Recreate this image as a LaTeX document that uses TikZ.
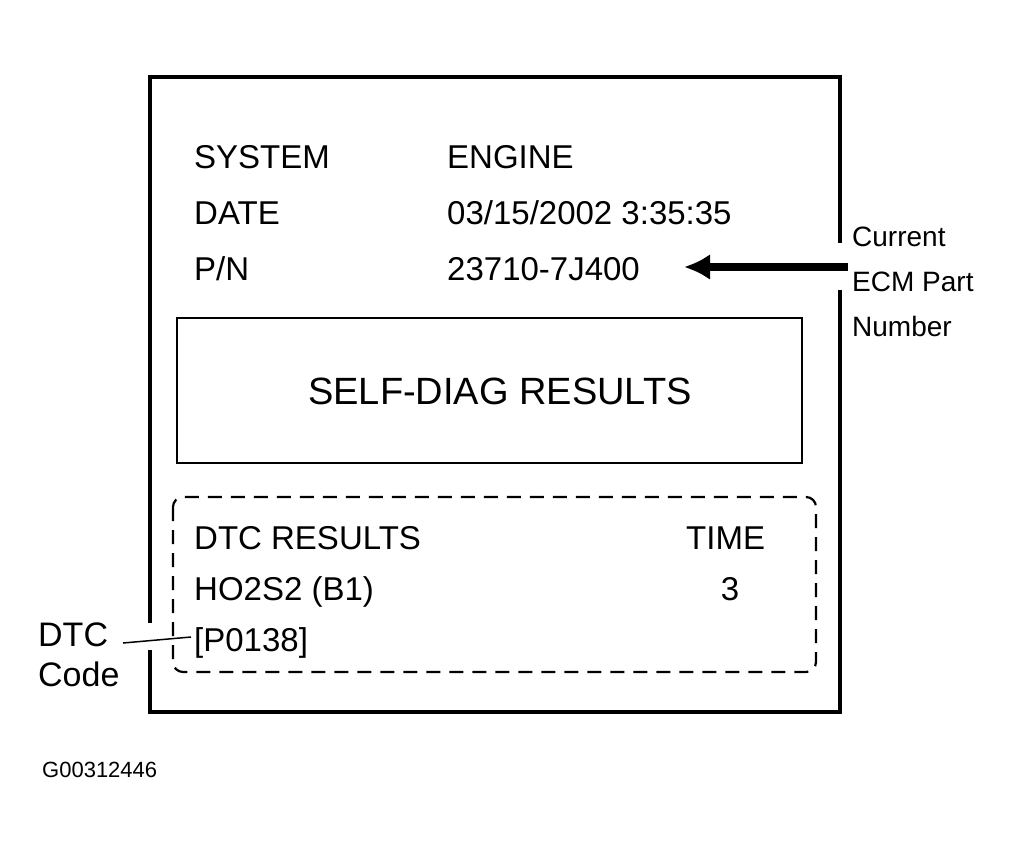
\documentclass[tikz,border=0pt]{standalone}
\usepackage{fontspec}
\setmainfont{Liberation Sans}
\usetikzlibrary{arrows.meta}
\begin{document}
\begin{tikzpicture}[x=1pt,y=-1pt,
  t/.style={anchor=base west,inner sep=0pt,font=\fontsize{33}{36}\selectfont},
  s/.style={anchor=base west,inner sep=0pt,font=\fontsize{28}{30}\selectfont}]
\useasboundingbox (0,0) rectangle (1033,849);
% outer frame
\draw[line width=3.5] (150,623) -- (150,77) -- (840,77) -- (840,243);
\draw[line width=3.5] (840,290) -- (840,712) -- (150,712) -- (150,650);
% inner boxes
\draw[line width=2] (177,318) rectangle (802,463);
\draw[line width=2.2,dash pattern=on 14pt off 9pt,rounded corners=10] (173,497) rectangle (816,672);
% texts
\node[t] (sys) at (194,168) {SYSTEM};
\node[t] (eng) at (447,168) {ENGINE};
\node[t] (date) at (194,224) {DATE};
\node[t] (dv) at (447,224) {03/15/2002 3:35:35};
\node[t] (pn) at (194,280) {P/N};
\node[t] (pv) at (447,280) {23710-7J400};
\node[anchor=base,inner sep=0pt,font=\fontsize{38}{40}\selectfont] (sd) at (500,404) {SELF-DIAG RESULTS};
\node[t] (dtc) at (194,549) {DTC RESULTS};
\node[t] (time) at (686,549) {TIME};
\node[t] (ho) at (194,600) {HO2S2 (B1)};
\node[anchor=base,inner sep=0pt,font=\fontsize{33}{36}\selectfont] (three) at (730,600) {3};
\node[t] (code) at (194,651) {[P0138]};
% right label
\node[s] (cur) at (852,246) {Current};
\node[s] (ecm) at (852,291) {ECM Part};
\node[s] (num) at (852,336) {Number};
\coordinate (ae) at (848,267);
\draw[line width=8,-{Latex[length=26pt,width=26pt]}] (ae) -- (684,267);
% left label
\node[anchor=base west,inner sep=0pt,font=\fontsize{34}{36}\selectfont] (dl) at (38,646) {DTC};
\node[anchor=base west,inner sep=0pt,font=\fontsize{34}{36}\selectfont] (cl) at (38,686) {Code};
\draw[line width=1.5] (123,643) -- (191,637);
\node[anchor=base west,inner sep=0pt,font=\fontsize{22}{24}\selectfont] (g) at (42,777) {G00312446};
\end{tikzpicture}
\end{document}
